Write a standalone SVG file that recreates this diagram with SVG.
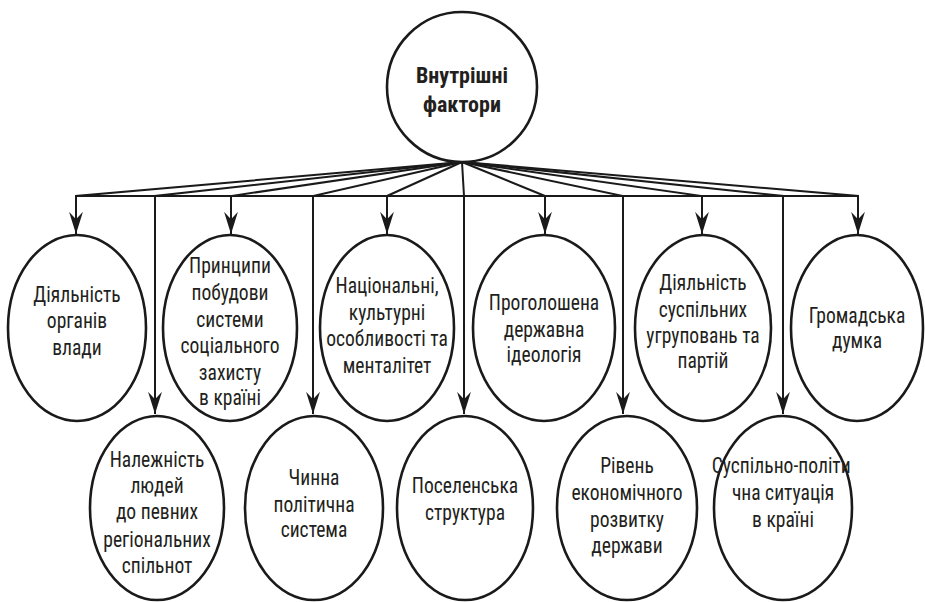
<svg xmlns="http://www.w3.org/2000/svg" width="925" height="602" viewBox="0 0 925 602">
<defs>
<marker id="arr" markerUnits="userSpaceOnUse" markerWidth="24" markerHeight="18" viewBox="-24 -9 26 18" refX="0" refY="0" orient="auto">
<path d="M0,0 L-24,-7.5 L-16,0 L-24,7.5 Z" fill="#1a1a1a"/>
</marker>
</defs>
<style>
.n{fill:#fff;stroke:#1a1a1a;stroke-width:2.6}
.c{fill:none;stroke:#1a1a1a;stroke-width:2}
text{font-family:"Liberation Sans Narrow","Roboto Condensed","DejaVu Sans Condensed","Liberation Sans",sans-serif;font-size:21.5px;fill:#231f20;text-anchor:middle}
.t{font-weight:bold;font-size:22px}
</style>
<rect width="925" height="602" fill="#fff"/>
<g id="connectors">
<line class="c" x1="76" y1="196" x2="858" y2="196"/>
<polyline class="c" points="462,162 76,196 76,234" marker-end="url(#arr)"/>
<polyline class="c" points="462,162 155,196 155,414" marker-end="url(#arr)"/>
<polyline class="c" points="462,162 231,196 231,234" marker-end="url(#arr)"/>
<polyline class="c" points="462,162 313,196 313,414" marker-end="url(#arr)"/>
<polyline class="c" points="462,162 387,196 387,234" marker-end="url(#arr)"/>
<polyline class="c" points="462,162 464,196 464,414" marker-end="url(#arr)"/>
<polyline class="c" points="462,162 545,196 545,234" marker-end="url(#arr)"/>
<polyline class="c" points="462,162 623,196 623,414" marker-end="url(#arr)"/>
<polyline class="c" points="462,162 702,196 702,234" marker-end="url(#arr)"/>
<polyline class="c" points="462,162 783,196 783,414" marker-end="url(#arr)"/>
<polyline class="c" points="462,162 858,196 858,234" marker-end="url(#arr)"/>
</g>
<g id="root">
<circle class="n" cx="462" cy="87" r="75"/>
<text class="t" x="462" y="83">Внутрішні</text>
<text class="t" x="462" y="112">фактори</text>
</g>
<g id="n1">
<ellipse class="n" cx="77" cy="328" rx="69" ry="93"/>
<g transform="translate(77,0) scale(0.91,1)">
<text x="0" y="302">Діяльність</text>
<text x="0" y="328">органів</text>
<text x="0" y="355">влади</text>
</g>
</g>
<g id="n2">
<ellipse class="n" cx="157" cy="508" rx="67" ry="92"/>
<g transform="translate(157,0) scale(0.91,1)">
<text x="0" y="467">Належність</text>
<text x="0" y="493">людей</text>
<text x="0" y="519">до певних</text>
<text x="0" y="547">регіональних</text>
<text x="0" y="573">спільнот</text>
</g>
</g>
<g id="n3">
<ellipse class="n" cx="230" cy="328" rx="67" ry="93"/>
<g transform="translate(230,0) scale(0.91,1)">
<text x="0" y="273">Принципи</text>
<text x="0" y="300">побудови</text>
<text x="0" y="327">системи</text>
<text x="0" y="353">соціального</text>
<text x="0" y="380">захисту</text>
<text x="0" y="405">в країні</text>
</g>
</g>
<g id="n4">
<ellipse class="n" cx="314" cy="508" rx="69" ry="92"/>
<g transform="translate(314,0) scale(0.91,1)">
<text x="0" y="485">Чинна</text>
<text x="0" y="512">політична</text>
<text x="0" y="537">система</text>
</g>
</g>
<g id="n5">
<ellipse class="n" cx="387" cy="328" rx="67" ry="93"/>
<g transform="translate(387,0) scale(0.91,1)">
<text x="0" y="293">Національні,</text>
<text x="0" y="320">культурні</text>
<text x="0" y="346">особливості та</text>
<text x="0" y="373">менталітет</text>
</g>
</g>
<g id="n6">
<ellipse class="n" cx="465" cy="508" rx="68" ry="92"/>
<g transform="translate(465,0) scale(0.91,1)">
<text x="0" y="493">Поселенська</text>
<text x="0" y="520">структура</text>
</g>
</g>
<g id="n7">
<ellipse class="n" cx="544" cy="328" rx="71" ry="93"/>
<g transform="translate(544,0) scale(0.91,1)">
<text x="0" y="310">Проголошена</text>
<text x="0" y="337">державна</text>
<text x="0" y="362">ідеологія</text>
</g>
</g>
<g id="n8">
<ellipse class="n" cx="627" cy="508" rx="70" ry="92"/>
<g transform="translate(627,0) scale(0.91,1)">
<text x="0" y="473">Рівень</text>
<text x="0" y="500">економічного</text>
<text x="0" y="527">розвитку</text>
<text x="0" y="553">держави</text>
</g>
</g>
<g id="n9">
<ellipse class="n" cx="703" cy="328" rx="68" ry="93"/>
<g transform="translate(703,0) scale(0.91,1)">
<text x="0" y="290">Діяльність</text>
<text x="0" y="317">суспільних</text>
<text x="0" y="343">угруповань та</text>
<text x="0" y="368">партій</text>
</g>
</g>
<g id="n10">
<ellipse class="n" cx="783" cy="508" rx="69" ry="92"/>
<g transform="translate(783,0) scale(0.91,1)">
<text x="-2" y="473">Суспільно-політи</text>
<text x="0" y="500">чна ситуація</text>
<text x="0" y="527">в країні</text>
</g>
</g>
<g id="n11">
<ellipse class="n" cx="857" cy="328" rx="66" ry="93"/>
<g transform="translate(857,0) scale(0.91,1)">
<text x="0" y="323">Громадська</text>
<text x="0" y="348">думка</text>
</g>
</g>
</svg>
